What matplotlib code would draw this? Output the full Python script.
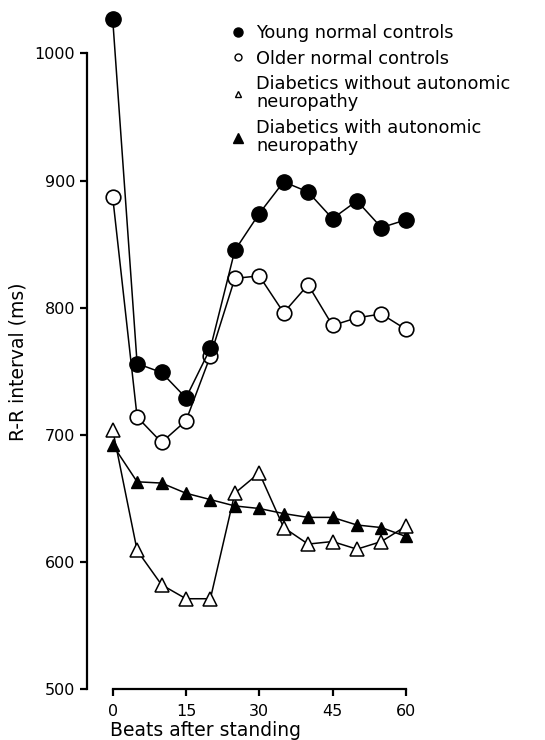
import matplotlib.pyplot as plt
from matplotlib.lines import Line2D

plt.rcParams['font.family'] = ['DejaVu Sans']

beats = [0, 5, 10, 15, 20, 25, 30, 35, 40, 45, 50, 55, 60]
young = [1027, 756, 749, 729, 768, 845, 874, 899, 891, 870, 884, 863, 869]
older = [887, 714, 694, 711, 762, 823, 825, 796, 818, 786, 792, 795, 783]
diab_without = [704, 609, 582, 571, 571, 654, 670, 627, 614, 616, 610, 616, 628]
diab_with = [692, 663, 662, 654, 649, 644, 642, 638, 635, 635, 629, 627, 620]

labels = ['Young normal controls', 'Older normal controls',
          'Diabetics without autonomic\nneuropathy',
          'Diabetics with autonomic\nneuropathy']
xticks = [0, 15, 30, 45, 60]
yticks = [500, 600, 700, 800, 900, 1000]

W, H = 545, 740
fig = plt.figure(figsize=(W / 100, H / 100), dpi=100)
ax = fig.add_axes([87 / W, 51 / H, 1 - 87 / W, 1 - 51 / H])

lw = 1.1
ax.plot(beats, diab_with, '-^', color='black', lw=lw, ms=8, mfc='black', mew=1, zorder=2)
ax.plot(beats, diab_without, '-^', color='black', lw=lw, ms=9.5, mfc='white', mew=1.1, zorder=3)
ax.plot(beats, older, '-o', color='black', lw=lw, ms=10.5, mfc='white', mew=1.2, zorder=4)
ax.plot(beats, young, '-o', color='black', lw=lw, ms=11, mfc='black', mew=1, zorder=5)

ax.set_xlim(-5.26, 88.5)
ax.set_ylim(500, 1042)
ax.spines['top'].set_visible(False)
ax.spines['right'].set_visible(False)
ax.spines['left'].set_bounds(500, 1000)
ax.spines['bottom'].set_bounds(0, 60)
ax.spines['left'].set_linewidth(1.6)
ax.spines['bottom'].set_linewidth(1.6)

ax.set_xticks(xticks)
ax.set_yticks(yticks)
ax.tick_params(axis='both', direction='out', length=5, width=1.6, labelsize=11.5)
ax.tick_params(axis='x', pad=6)

ax.set_ylabel('R-R interval (ms)', fontsize=13.5)
ax.yaxis.set_label_coords(-0.13, 0.475)
ax.set_xlabel('Beats after standing', fontsize=13.5, ha='left')
ax.xaxis.set_label_coords(0.05, -0.046)

handles = [
    Line2D([], [], ls='none', marker='o', color='black', mfc='black', ms=6.5),
    Line2D([], [], ls='none', marker='o', color='black', mfc='white', ms=5),
    Line2D([], [], ls='none', marker='^', color='black', mfc='white', ms=5),
    Line2D([], [], ls='none', marker='^', color='black', mfc='black', ms=6.5),
]
leg = ax.legend(handles, labels, loc='upper left', bbox_to_anchor=(0.319, 0.965),
                frameon=False, fontsize=12.8, handlelength=0.6, handletextpad=0.7,
                labelspacing=0.42, borderpad=0, borderaxespad=0)
for t in leg.get_texts():
    t.set_linespacing(1.02)

fig.savefig('out.png', dpi=100)
